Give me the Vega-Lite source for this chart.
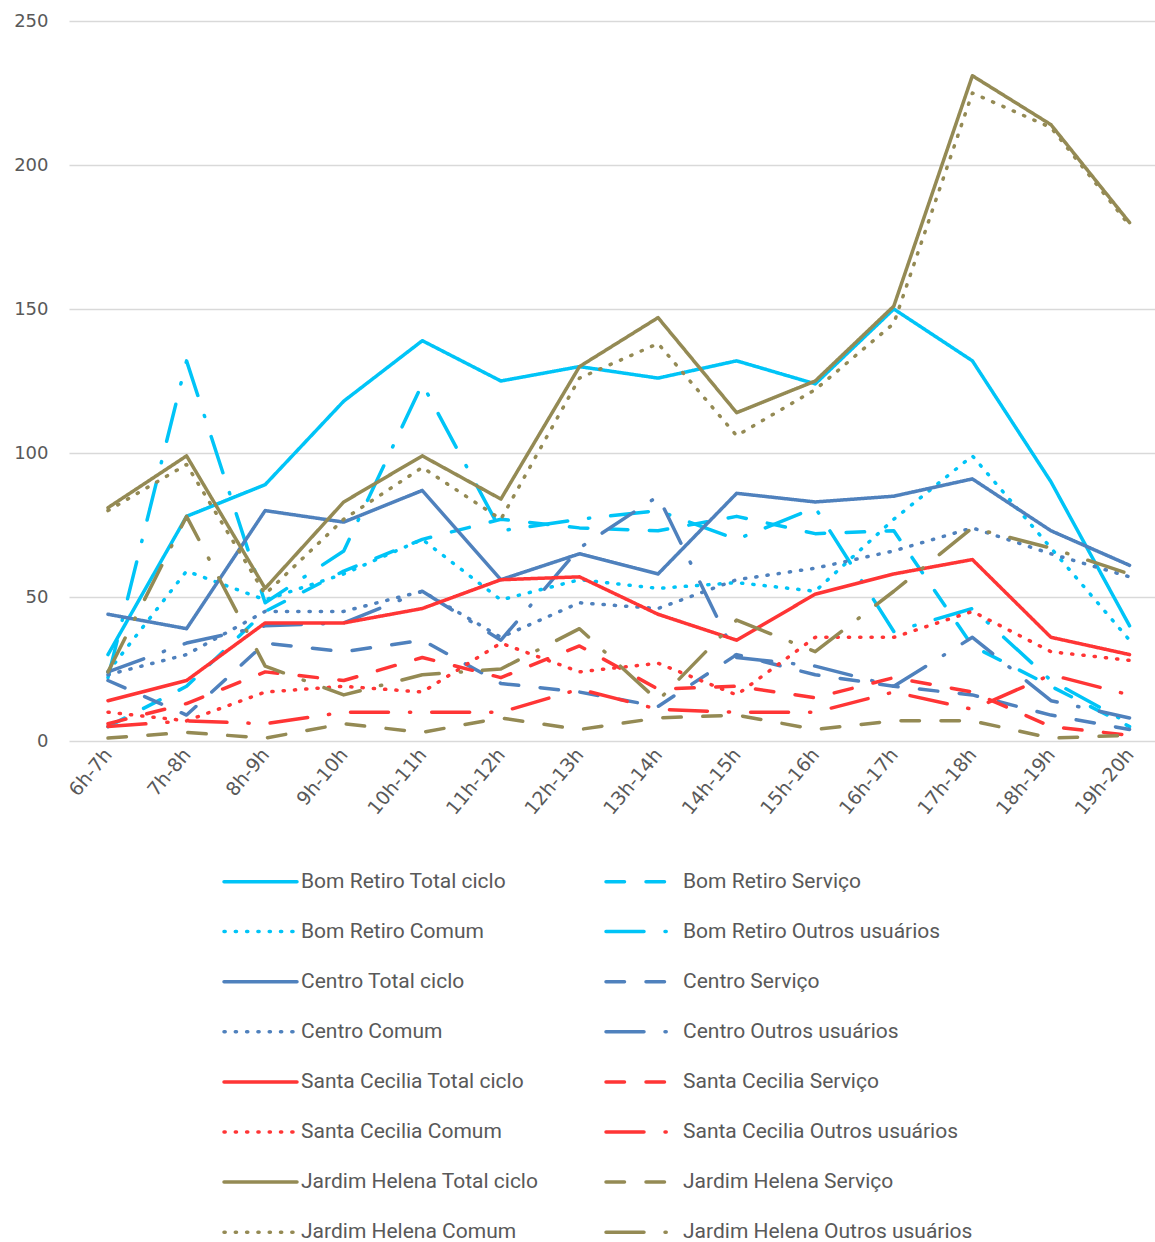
{
  "$schema": "https://vega.github.io/schema/vega-lite/v6.json",
  "autosize": {"type": "none"},
  "padding": {"left": 69, "top": 21, "right": 0, "bottom": 501},
  "width": 1086,
  "height": 720,
  "background": "white",
  "config": {"view": {"stroke": null}},
  "data": {"values": [
    {"h":"6h-7h","s":"Bom Retiro Total ciclo","v":30},{"h":"7h-8h","s":"Bom Retiro Total ciclo","v":78},{"h":"8h-9h","s":"Bom Retiro Total ciclo","v":89},{"h":"9h-10h","s":"Bom Retiro Total ciclo","v":118},{"h":"10h-11h","s":"Bom Retiro Total ciclo","v":139},{"h":"11h-12h","s":"Bom Retiro Total ciclo","v":125},{"h":"12h-13h","s":"Bom Retiro Total ciclo","v":130},{"h":"13h-14h","s":"Bom Retiro Total ciclo","v":126},{"h":"14h-15h","s":"Bom Retiro Total ciclo","v":132},{"h":"15h-16h","s":"Bom Retiro Total ciclo","v":124},{"h":"16h-17h","s":"Bom Retiro Total ciclo","v":150},{"h":"17h-18h","s":"Bom Retiro Total ciclo","v":132},{"h":"18h-19h","s":"Bom Retiro Total ciclo","v":90},{"h":"19h-20h","s":"Bom Retiro Total ciclo","v":40},
    {"h":"6h-7h","s":"Bom Retiro Serviço","v":5},{"h":"7h-8h","s":"Bom Retiro Serviço","v":19},{"h":"8h-9h","s":"Bom Retiro Serviço","v":45},{"h":"9h-10h","s":"Bom Retiro Serviço","v":59},{"h":"10h-11h","s":"Bom Retiro Serviço","v":70},{"h":"11h-12h","s":"Bom Retiro Serviço","v":77},{"h":"12h-13h","s":"Bom Retiro Serviço","v":74},{"h":"13h-14h","s":"Bom Retiro Serviço","v":73},{"h":"14h-15h","s":"Bom Retiro Serviço","v":78},{"h":"15h-16h","s":"Bom Retiro Serviço","v":72},{"h":"16h-17h","s":"Bom Retiro Serviço","v":73},{"h":"17h-18h","s":"Bom Retiro Serviço","v":33},{"h":"18h-19h","s":"Bom Retiro Serviço","v":19},{"h":"19h-20h","s":"Bom Retiro Serviço","v":5},
    {"h":"6h-7h","s":"Bom Retiro Comum","v":24},{"h":"7h-8h","s":"Bom Retiro Comum","v":59},{"h":"8h-9h","s":"Bom Retiro Comum","v":49},{"h":"9h-10h","s":"Bom Retiro Comum","v":58},{"h":"10h-11h","s":"Bom Retiro Comum","v":70},{"h":"11h-12h","s":"Bom Retiro Comum","v":49},{"h":"12h-13h","s":"Bom Retiro Comum","v":56},{"h":"13h-14h","s":"Bom Retiro Comum","v":53},{"h":"14h-15h","s":"Bom Retiro Comum","v":55},{"h":"15h-16h","s":"Bom Retiro Comum","v":52},{"h":"16h-17h","s":"Bom Retiro Comum","v":77},{"h":"17h-18h","s":"Bom Retiro Comum","v":99},{"h":"18h-19h","s":"Bom Retiro Comum","v":67},{"h":"19h-20h","s":"Bom Retiro Comum","v":35},
    {"h":"6h-7h","s":"Bom Retiro Outros usuários","v":22},{"h":"7h-8h","s":"Bom Retiro Outros usuários","v":132},{"h":"8h-9h","s":"Bom Retiro Outros usuários","v":48},{"h":"9h-10h","s":"Bom Retiro Outros usuários","v":66},{"h":"10h-11h","s":"Bom Retiro Outros usuários","v":124},{"h":"11h-12h","s":"Bom Retiro Outros usuários","v":73},{"h":"12h-13h","s":"Bom Retiro Outros usuários","v":77},{"h":"13h-14h","s":"Bom Retiro Outros usuários","v":80},{"h":"14h-15h","s":"Bom Retiro Outros usuários","v":70},{"h":"15h-16h","s":"Bom Retiro Outros usuários","v":81},{"h":"16h-17h","s":"Bom Retiro Outros usuários","v":38},{"h":"17h-18h","s":"Bom Retiro Outros usuários","v":46},{"h":"18h-19h","s":"Bom Retiro Outros usuários","v":21},{"h":"19h-20h","s":"Bom Retiro Outros usuários","v":6},
    {"h":"6h-7h","s":"Centro Total ciclo","v":44},{"h":"7h-8h","s":"Centro Total ciclo","v":39},{"h":"8h-9h","s":"Centro Total ciclo","v":80},{"h":"9h-10h","s":"Centro Total ciclo","v":76},{"h":"10h-11h","s":"Centro Total ciclo","v":87},{"h":"11h-12h","s":"Centro Total ciclo","v":56},{"h":"12h-13h","s":"Centro Total ciclo","v":65},{"h":"13h-14h","s":"Centro Total ciclo","v":58},{"h":"14h-15h","s":"Centro Total ciclo","v":86},{"h":"15h-16h","s":"Centro Total ciclo","v":83},{"h":"16h-17h","s":"Centro Total ciclo","v":85},{"h":"17h-18h","s":"Centro Total ciclo","v":91},{"h":"18h-19h","s":"Centro Total ciclo","v":73},{"h":"19h-20h","s":"Centro Total ciclo","v":61},
    {"h":"6h-7h","s":"Centro Serviço","v":21},{"h":"7h-8h","s":"Centro Serviço","v":9},{"h":"8h-9h","s":"Centro Serviço","v":34},{"h":"9h-10h","s":"Centro Serviço","v":31},{"h":"10h-11h","s":"Centro Serviço","v":35},{"h":"11h-12h","s":"Centro Serviço","v":20},{"h":"12h-13h","s":"Centro Serviço","v":17},{"h":"13h-14h","s":"Centro Serviço","v":12},{"h":"14h-15h","s":"Centro Serviço","v":30},{"h":"15h-16h","s":"Centro Serviço","v":23},{"h":"16h-17h","s":"Centro Serviço","v":19},{"h":"17h-18h","s":"Centro Serviço","v":16},{"h":"18h-19h","s":"Centro Serviço","v":9},{"h":"19h-20h","s":"Centro Serviço","v":4},
    {"h":"6h-7h","s":"Centro Comum","v":23},{"h":"7h-8h","s":"Centro Comum","v":30},{"h":"8h-9h","s":"Centro Comum","v":45},{"h":"9h-10h","s":"Centro Comum","v":45},{"h":"10h-11h","s":"Centro Comum","v":52},{"h":"11h-12h","s":"Centro Comum","v":36},{"h":"12h-13h","s":"Centro Comum","v":48},{"h":"13h-14h","s":"Centro Comum","v":46},{"h":"14h-15h","s":"Centro Comum","v":56},{"h":"15h-16h","s":"Centro Comum","v":60},{"h":"16h-17h","s":"Centro Comum","v":66},{"h":"17h-18h","s":"Centro Comum","v":74},{"h":"18h-19h","s":"Centro Comum","v":65},{"h":"19h-20h","s":"Centro Comum","v":57},
    {"h":"6h-7h","s":"Centro Outros usuários","v":24},{"h":"7h-8h","s":"Centro Outros usuários","v":34},{"h":"8h-9h","s":"Centro Outros usuários","v":40},{"h":"9h-10h","s":"Centro Outros usuários","v":41},{"h":"10h-11h","s":"Centro Outros usuários","v":52},{"h":"11h-12h","s":"Centro Outros usuários","v":35},{"h":"12h-13h","s":"Centro Outros usuários","v":67},{"h":"13h-14h","s":"Centro Outros usuários","v":85},{"h":"14h-15h","s":"Centro Outros usuários","v":29},{"h":"15h-16h","s":"Centro Outros usuários","v":26},{"h":"16h-17h","s":"Centro Outros usuários","v":19},{"h":"17h-18h","s":"Centro Outros usuários","v":36},{"h":"18h-19h","s":"Centro Outros usuários","v":14},{"h":"19h-20h","s":"Centro Outros usuários","v":8},
    {"h":"6h-7h","s":"Santa Cecilia Total ciclo","v":14},{"h":"7h-8h","s":"Santa Cecilia Total ciclo","v":21},{"h":"8h-9h","s":"Santa Cecilia Total ciclo","v":41},{"h":"9h-10h","s":"Santa Cecilia Total ciclo","v":41},{"h":"10h-11h","s":"Santa Cecilia Total ciclo","v":46},{"h":"11h-12h","s":"Santa Cecilia Total ciclo","v":56},{"h":"12h-13h","s":"Santa Cecilia Total ciclo","v":57},{"h":"13h-14h","s":"Santa Cecilia Total ciclo","v":44},{"h":"14h-15h","s":"Santa Cecilia Total ciclo","v":35},{"h":"15h-16h","s":"Santa Cecilia Total ciclo","v":51},{"h":"16h-17h","s":"Santa Cecilia Total ciclo","v":58},{"h":"17h-18h","s":"Santa Cecilia Total ciclo","v":63},{"h":"18h-19h","s":"Santa Cecilia Total ciclo","v":36},{"h":"19h-20h","s":"Santa Cecilia Total ciclo","v":30},
    {"h":"6h-7h","s":"Santa Cecilia Serviço","v":6},{"h":"7h-8h","s":"Santa Cecilia Serviço","v":13},{"h":"8h-9h","s":"Santa Cecilia Serviço","v":24},{"h":"9h-10h","s":"Santa Cecilia Serviço","v":21},{"h":"10h-11h","s":"Santa Cecilia Serviço","v":29},{"h":"11h-12h","s":"Santa Cecilia Serviço","v":22},{"h":"12h-13h","s":"Santa Cecilia Serviço","v":33},{"h":"13h-14h","s":"Santa Cecilia Serviço","v":18},{"h":"14h-15h","s":"Santa Cecilia Serviço","v":19},{"h":"15h-16h","s":"Santa Cecilia Serviço","v":15},{"h":"16h-17h","s":"Santa Cecilia Serviço","v":22},{"h":"17h-18h","s":"Santa Cecilia Serviço","v":17},{"h":"18h-19h","s":"Santa Cecilia Serviço","v":5},{"h":"19h-20h","s":"Santa Cecilia Serviço","v":2},
    {"h":"6h-7h","s":"Santa Cecilia Comum","v":10},{"h":"7h-8h","s":"Santa Cecilia Comum","v":7},{"h":"8h-9h","s":"Santa Cecilia Comum","v":17},{"h":"9h-10h","s":"Santa Cecilia Comum","v":19},{"h":"10h-11h","s":"Santa Cecilia Comum","v":17},{"h":"11h-12h","s":"Santa Cecilia Comum","v":34},{"h":"12h-13h","s":"Santa Cecilia Comum","v":24},{"h":"13h-14h","s":"Santa Cecilia Comum","v":27},{"h":"14h-15h","s":"Santa Cecilia Comum","v":16},{"h":"15h-16h","s":"Santa Cecilia Comum","v":36},{"h":"16h-17h","s":"Santa Cecilia Comum","v":36},{"h":"17h-18h","s":"Santa Cecilia Comum","v":45},{"h":"18h-19h","s":"Santa Cecilia Comum","v":31},{"h":"19h-20h","s":"Santa Cecilia Comum","v":28},
    {"h":"6h-7h","s":"Santa Cecilia Outros usuários","v":5},{"h":"7h-8h","s":"Santa Cecilia Outros usuários","v":7},{"h":"8h-9h","s":"Santa Cecilia Outros usuários","v":6},{"h":"9h-10h","s":"Santa Cecilia Outros usuários","v":10},{"h":"10h-11h","s":"Santa Cecilia Outros usuários","v":10},{"h":"11h-12h","s":"Santa Cecilia Outros usuários","v":10},{"h":"12h-13h","s":"Santa Cecilia Outros usuários","v":18},{"h":"13h-14h","s":"Santa Cecilia Outros usuários","v":11},{"h":"14h-15h","s":"Santa Cecilia Outros usuários","v":10},{"h":"15h-16h","s":"Santa Cecilia Outros usuários","v":10},{"h":"16h-17h","s":"Santa Cecilia Outros usuários","v":17},{"h":"17h-18h","s":"Santa Cecilia Outros usuários","v":11},{"h":"18h-19h","s":"Santa Cecilia Outros usuários","v":23},{"h":"19h-20h","s":"Santa Cecilia Outros usuários","v":16},
    {"h":"6h-7h","s":"Jardim Helena Total ciclo","v":81},{"h":"7h-8h","s":"Jardim Helena Total ciclo","v":99},{"h":"8h-9h","s":"Jardim Helena Total ciclo","v":53},{"h":"9h-10h","s":"Jardim Helena Total ciclo","v":83},{"h":"10h-11h","s":"Jardim Helena Total ciclo","v":99},{"h":"11h-12h","s":"Jardim Helena Total ciclo","v":84},{"h":"12h-13h","s":"Jardim Helena Total ciclo","v":130},{"h":"13h-14h","s":"Jardim Helena Total ciclo","v":147},{"h":"14h-15h","s":"Jardim Helena Total ciclo","v":114},{"h":"15h-16h","s":"Jardim Helena Total ciclo","v":125},{"h":"16h-17h","s":"Jardim Helena Total ciclo","v":151},{"h":"17h-18h","s":"Jardim Helena Total ciclo","v":231},{"h":"18h-19h","s":"Jardim Helena Total ciclo","v":214},{"h":"19h-20h","s":"Jardim Helena Total ciclo","v":180},
    {"h":"6h-7h","s":"Jardim Helena Serviço","v":1},{"h":"7h-8h","s":"Jardim Helena Serviço","v":3},{"h":"8h-9h","s":"Jardim Helena Serviço","v":1},{"h":"9h-10h","s":"Jardim Helena Serviço","v":6},{"h":"10h-11h","s":"Jardim Helena Serviço","v":3},{"h":"11h-12h","s":"Jardim Helena Serviço","v":8},{"h":"12h-13h","s":"Jardim Helena Serviço","v":4},{"h":"13h-14h","s":"Jardim Helena Serviço","v":8},{"h":"14h-15h","s":"Jardim Helena Serviço","v":9},{"h":"15h-16h","s":"Jardim Helena Serviço","v":4},{"h":"16h-17h","s":"Jardim Helena Serviço","v":7},{"h":"17h-18h","s":"Jardim Helena Serviço","v":7},{"h":"18h-19h","s":"Jardim Helena Serviço","v":1},{"h":"19h-20h","s":"Jardim Helena Serviço","v":2},
    {"h":"6h-7h","s":"Jardim Helena Comum","v":80},{"h":"7h-8h","s":"Jardim Helena Comum","v":96},{"h":"8h-9h","s":"Jardim Helena Comum","v":51},{"h":"9h-10h","s":"Jardim Helena Comum","v":77},{"h":"10h-11h","s":"Jardim Helena Comum","v":95},{"h":"11h-12h","s":"Jardim Helena Comum","v":77},{"h":"12h-13h","s":"Jardim Helena Comum","v":126},{"h":"13h-14h","s":"Jardim Helena Comum","v":138},{"h":"14h-15h","s":"Jardim Helena Comum","v":106},{"h":"15h-16h","s":"Jardim Helena Comum","v":122},{"h":"16h-17h","s":"Jardim Helena Comum","v":145},{"h":"17h-18h","s":"Jardim Helena Comum","v":225},{"h":"18h-19h","s":"Jardim Helena Comum","v":213},{"h":"19h-20h","s":"Jardim Helena Comum","v":179},
    {"h":"6h-7h","s":"Jardim Helena Outros usuários","v":24},{"h":"7h-8h","s":"Jardim Helena Outros usuários","v":78},{"h":"8h-9h","s":"Jardim Helena Outros usuários","v":26},{"h":"9h-10h","s":"Jardim Helena Outros usuários","v":16},{"h":"10h-11h","s":"Jardim Helena Outros usuários","v":23},{"h":"11h-12h","s":"Jardim Helena Outros usuários","v":25},{"h":"12h-13h","s":"Jardim Helena Outros usuários","v":39},{"h":"13h-14h","s":"Jardim Helena Outros usuários","v":14},{"h":"14h-15h","s":"Jardim Helena Outros usuários","v":42},{"h":"15h-16h","s":"Jardim Helena Outros usuários","v":31},{"h":"16h-17h","s":"Jardim Helena Outros usuários","v":52},{"h":"17h-18h","s":"Jardim Helena Outros usuários","v":74},{"h":"18h-19h","s":"Jardim Helena Outros usuários","v":67},{"h":"19h-20h","s":"Jardim Helena Outros usuários","v":58}
  ]},
  "mark": {"type": "line", "strokeWidth": 3.5, "strokeCap": "round", "strokeJoin": "round"},
  "encoding": {
    "x": {
      "field": "h", "type": "ordinal", "sort": null,
      "scale": {"type": "point", "padding": 0.41, "align": 0.605},
      "axis": {"title": null, "domain": false, "ticks": false, "grid": false, "labelAngle": -50, "labelAlign": "right", "labelBaseline": "middle", "labelPadding": 10, "labelFont": "DejaVu Sans", "labelFontSize": 19, "labelColor": "#595959"}
    },
    "y": {
      "field": "v", "type": "quantitative",
      "scale": {"domain": [0, 250], "nice": false},
      "axis": {"title": null, "values": [0, 50, 100, 150, 200, 250], "domain": false, "ticks": false, "grid": true, "gridColor": "#D9D9D9", "gridWidth": 1.3, "labelPadding": 21, "labelFont": "DejaVu Sans", "labelFontSize": 18, "labelColor": "#595959"}
    },
    "color": {
      "field": "s", "type": "nominal",
      "scale": {
        "domain": ["Bom Retiro Total ciclo","Bom Retiro Serviço","Bom Retiro Comum","Bom Retiro Outros usuários","Centro Total ciclo","Centro Serviço","Centro Comum","Centro Outros usuários","Santa Cecilia Total ciclo","Santa Cecilia Serviço","Santa Cecilia Comum","Santa Cecilia Outros usuários","Jardim Helena Total ciclo","Jardim Helena Serviço","Jardim Helena Comum","Jardim Helena Outros usuários"],
        "range": ["#00C4F7","#00C4F7","#00C4F7","#00C4F7","#4F81BD","#4F81BD","#4F81BD","#4F81BD","#FF3535","#FF3535","#FF3535","#FF3535","#948A54","#948A54","#948A54","#948A54"]
      },
      "legend": {
        "title": null, "orient": "none", "legendX": 153, "legendY": 822, "columns": 2, "direction": "horizontal",
        "symbolType": "stroke", "symbolSize": 5329, "symbolStrokeWidth": 3.5,
        "labelFont": "Roboto", "labelFontSize": 21, "labelColor": "#595959", "labelOffset": 2, "labelLimit": 400,
        "rowPadding": 1.1, "columnPadding": 60, "padding": 0,
        "encode": {"symbols": {"update": {"strokeCap": {"value": "round"}}}}
      }
    },
    "strokeDash": {
      "field": "s", "type": "nominal",
      "scale": {
        "domain": ["Bom Retiro Total ciclo","Bom Retiro Serviço","Bom Retiro Comum","Bom Retiro Outros usuários","Centro Total ciclo","Centro Serviço","Centro Comum","Centro Outros usuários","Santa Cecilia Total ciclo","Santa Cecilia Serviço","Santa Cecilia Comum","Santa Cecilia Outros usuários","Jardim Helena Total ciclo","Jardim Helena Serviço","Jardim Helena Comum","Jardim Helena Outros usuários"],
        "range": [[1,0],[18.5,21.5],[1.2,10.1],[38,21,1.2,21],[1,0],[18.5,21.5],[1.2,10.1],[38,21,1.2,21],[1,0],[18.5,21.5],[1.2,10.1],[38,21,1.2,21],[1,0],[18.5,21.5],[1.2,10.1],[38,21,1.2,21]]
      },
      "legend": null
    }
  }
}
